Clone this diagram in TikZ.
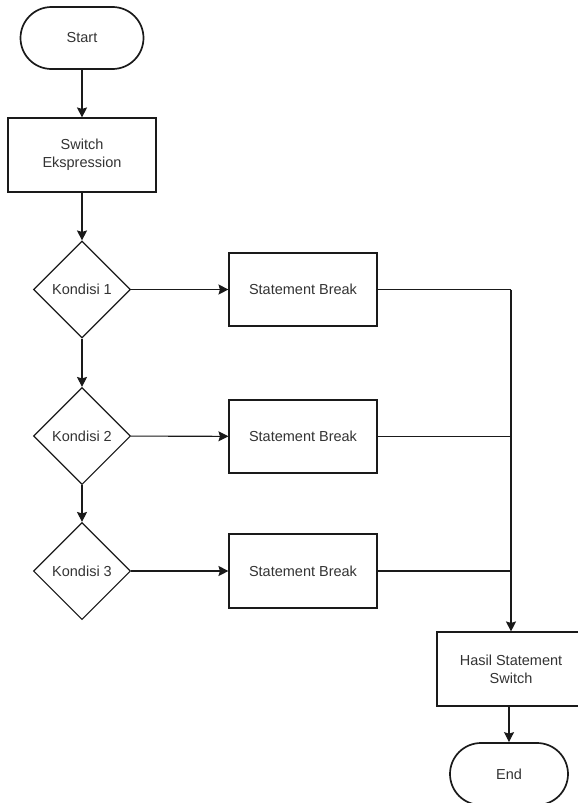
\documentclass[tikz,border=0pt]{standalone}
\usepackage{fontspec}
\setmainfont{Liberation Sans}
\usetikzlibrary{arrows.meta,shapes.geometric}
\definecolor{txt}{HTML}{333333}
\definecolor{ln}{HTML}{1A1A1A}
\tikzset{
  base/.style={draw=ln, line width=1.1pt, text=txt, font=\fontsize{14.5}{18}\selectfont, align=center, inner sep=0pt},
  term/.style={base, line width=1.7pt, rectangle, rounded corners=31pt, minimum width=123pt, minimum height=62pt},
  proc/.style={base, rectangle, minimum width=148pt, minimum height=74pt},
  cond/.style={base, diamond, aspect=1, minimum width=97pt, minimum height=97pt},
  conn/.style={draw=ln, line width=1.1pt},
  arr/.style={conn, -{Stealth[length=10pt,width=10pt,inset=1.5pt]}}
}
\begin{document}
\begin{tikzpicture}[x=1pt,y=-1pt]
\useasboundingbox[fill=white] (0,0) rectangle (578,803);
\node[term] (start) at (82,38) {Start};
\node[proc] (switch) at (82,155) {Switch\\Ekspression};
\node[cond] (k1) at (82,289.5) {Kondisi 1};
\node[proc, minimum height=73pt] (sb1) at (303,289.5) {Statement Break};
\node[cond] (k2) at (82,436) {Kondisi 2};
\node[proc, minimum height=73pt] (sb2) at (303,436.5) {Statement Break};
\node[cond] (k3) at (82,571) {Kondisi 3};
\node[proc] (sb3) at (303,571) {Statement Break};
\node[proc] (hasil) at (511,669) {Hasil Statement\\Switch};
\node[term, minimum width=118pt] (end) at (509,774) {End};
\coordinate (j1) at (511,289.5);
\coordinate (j2) at (511,436.5);
\coordinate (j3) at (511,571);
\draw[arr] (start) -- (switch);
\draw[arr] (switch) -- (k1);
\draw[arr] (k1) -- (k2);
\draw[arr] (k2) -- (k3);
\draw[arr] (k1) -- (sb1);
\draw[arr] (k2) -- (sb2);
\draw[arr] (k3) -- (sb3);
\draw[conn] (sb1.east) -- (j1);
\draw[arr] (j1) -- (hasil.north);
\draw[conn] (sb2.east) -- (j2);
\draw[conn] (sb3.east) -- (j3);
\draw[arr] (hasil.south -| end) -- (end);
\end{tikzpicture}
\end{document}
